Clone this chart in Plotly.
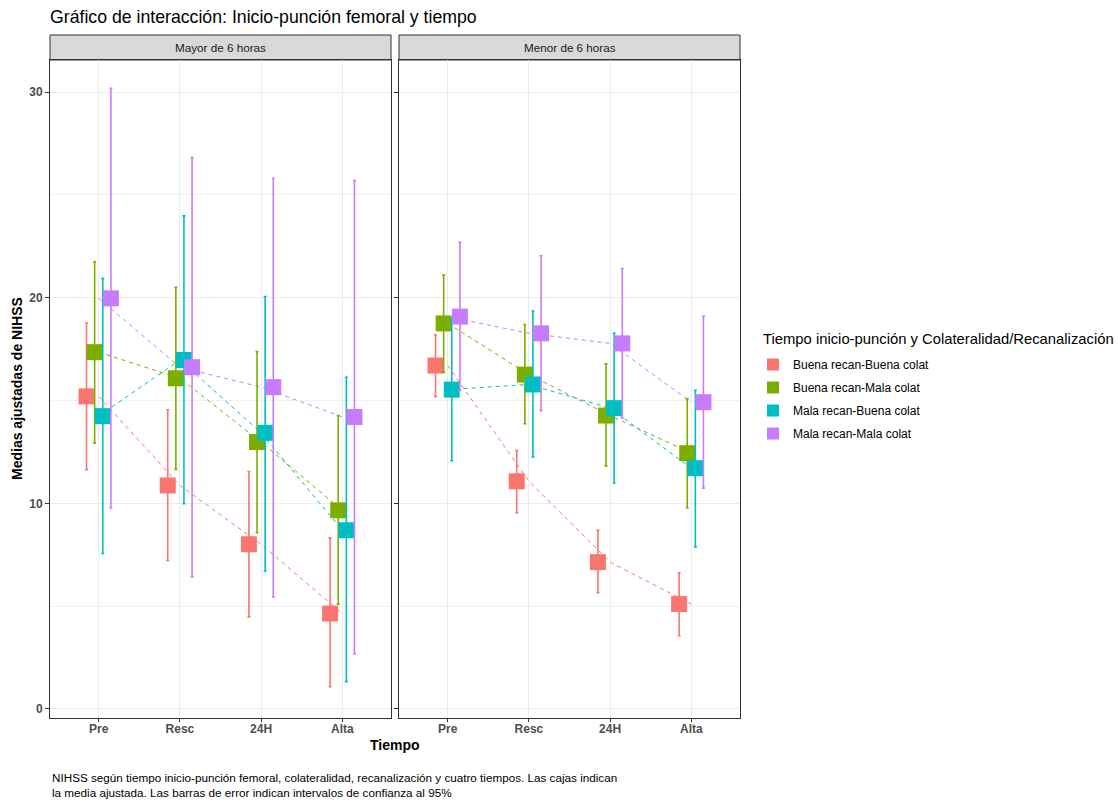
import plotly.graph_objects as go

# Time points and facets
tiempos = ["Pre", "Resc", "24H", "Alta"]
paneles = ["Mayor de 6 horas", "Menor de 6 horas"]
grupos = ["Buena recan-Buena colat", "Buena recan-Mala colat",
          "Mala recan-Buena colat", "Mala recan-Mala colat"]
colores = ["#F8766D", "#7CAE00", "#00BFC4", "#C77CFF"]

# Adjusted means and 95% CI, facet "Mayor de 6 horas"
mayor_media = {
    "Buena recan-Buena colat": [15.2, 10.87, 8.01, 4.64],
    "Buena recan-Mala colat": [17.35, 16.08, 12.98, 9.66],
    "Mala recan-Buena colat": [14.24, 16.97, 13.43, 8.69],
    "Mala recan-Mala colat": [19.97, 16.62, 15.65, 14.2],
}
mayor_inf = {
    "Buena recan-Buena colat": [11.63, 7.22, 4.48, 1.08],
    "Buena recan-Mala colat": [12.93, 11.65, 8.57, 5.10],
    "Mala recan-Buena colat": [7.56, 9.98, 6.71, 1.33],
    "Mala recan-Mala colat": [9.77, 6.42, 5.45, 2.67],
}
mayor_sup = {
    "Buena recan-Buena colat": [18.77, 14.55, 11.55, 8.32],
    "Buena recan-Mala colat": [21.75, 20.5, 17.38, 14.27],
    "Mala recan-Buena colat": [20.94, 23.98, 20.06, 16.13],
    "Mala recan-Mala colat": [30.18, 26.81, 25.81, 25.7],
}

# Adjusted means and 95% CI, facet "Menor de 6 horas"
menor_media = {
    "Buena recan-Buena colat": [16.70, 11.07, 7.14, 5.10],
    "Buena recan-Mala colat": [18.75, 16.26, 14.27, 12.44],
    "Mala recan-Buena colat": [15.53, 15.78, 14.63, 11.71],
    "Mala recan-Mala colat": [19.08, 18.27, 17.78, 14.92],
}
menor_inf = {
    "Buena recan-Buena colat": [15.19, 9.55, 5.65, 3.56],
    "Buena recan-Mala colat": [16.37, 13.87, 11.81, 9.77],
    "Mala recan-Buena colat": [12.07, 12.25, 10.99, 7.88],
    "Mala recan-Mala colat": [15.49, 14.51, 14.15, 10.74],
}
menor_sup = {
    "Buena recan-Buena colat": [18.19, 12.57, 8.69, 6.62],
    "Buena recan-Mala colat": [21.1, 18.7, 16.78, 15.08],
    "Mala recan-Buena colat": [18.97, 19.35, 18.27, 15.5],
    "Mala recan-Mala colat": [22.69, 22.04, 21.42, 19.1],
}

datos = [(mayor_media, mayor_inf, mayor_sup), (menor_media, menor_inf, menor_sup)]

# dodge offsets for points / error bars (lines stay at the category centre)
dodge = 0.4
n = len(grupos)
offsets = [(-dodge / 2 + dodge / n * (i + 0.5)) for i in range(n)]

W, H = 1118, 800
ML, MR, MT, MB = 50, 378, 60, 82
plot_w = W - ML - MR
plot_h = H - MT - MB
gap = 8
dom_l = [0, (plot_w - gap) / 2 / plot_w]
dom_r = [1 - (plot_w - gap) / 2 / plot_w, 1]

FONT = "Liberation Sans, Arial"

fig = go.Figure()

xaxes = ["x", "x2"]
yaxes = ["y", "y2"]
xpos = list(range(1, len(tiempos) + 1))

# dashed interaction lines
for p, (media, inf, sup) in enumerate(datos):
    for g, col in zip(grupos, colores):
        fig.add_trace(go.Scatter(
            x=xpos, y=media[g], mode="lines",
            line=dict(color=col, width=1, dash="4px,4px"),
            xaxis=xaxes[p], yaxis=yaxes[p], showlegend=False, hoverinfo="skip",
        ))

# means with confidence interval bars
for p, (media, inf, sup) in enumerate(datos):
    for i, (g, col) in enumerate(zip(grupos, colores)):
        m = media[g]
        fig.add_trace(go.Scatter(
            x=[x + offsets[i] for x in xpos], y=m, mode="markers",
            marker=dict(symbol="square", size=16, color=col, line=dict(width=0)),
            error_y=dict(type="data", symmetric=False,
                         array=[s - v for s, v in zip(sup[g], m)],
                         arrayminus=[v - l for v, l in zip(m, inf[g])],
                         color=col, thickness=1.6, width=1.5),
            xaxis=xaxes[p], yaxis=yaxes[p], name=g,
            legendgroup=g, showlegend=(p == 0),
        ))

yrange = [-0.44, 31.56]
axis_font = dict(family=FONT, size=12, color="#4D4D4D")
common_x = dict(range=[0.4, 4.6], tickvals=xpos, ticktext=[f"<b>{t}</b>" for t in tiempos],
                showgrid=True, gridcolor="#EBEBEB", gridwidth=1.1, zeroline=False,
                showline=True, mirror=True, linecolor="#333333", linewidth=1,
                ticks="outside", ticklen=3, tickcolor="#333333", tickfont=axis_font,
                ticklabelstandoff=-3)
common_y = dict(range=yrange, tickvals=[0, 10, 20, 30],
                showgrid=True, gridcolor="#EBEBEB", gridwidth=1.1, zeroline=False,
                showline=True, mirror=True, linecolor="#333333", linewidth=1,
                ticks="outside", ticklen=4, tickcolor="#333333", tickfont=axis_font,
                minor=dict(tickvals=[5, 15, 25], showgrid=True, gridcolor="#F0F0F0",
                           gridwidth=0.7, ticks=""))

fig.update_layout(
    xaxis=dict(domain=dom_l, anchor="y", **common_x),
    xaxis2=dict(domain=dom_r, anchor="y2", **common_x),
    yaxis=dict(domain=[0, 1], anchor="x",
               ticktext=["<b>0</b>", "<b>10</b>", "<b>20</b>", "<b>30</b>"], **common_y),
    yaxis2=dict(domain=[0, 1], anchor="x2", showticklabels=False, **common_y),
)

# facet strips
strip_top = 1 + 25 / plot_h
for p, dom in enumerate([dom_l, dom_r]):
    fig.add_shape(type="rect", xref="paper", yref="paper",
                  x0=dom[0], x1=dom[1], y0=1, y1=strip_top,
                  fillcolor="#D9D9D9", line=dict(color="#333333", width=1), layer="below")
    fig.add_annotation(text=paneles[p], xref="paper", yref="paper",
                       x=(dom[0] + dom[1]) / 2, y=(1 + strip_top) / 2,
                       showarrow=False, xanchor="center", yanchor="middle",
                       font=dict(family=FONT, size=11.7, color="#1A1A1A"))

# axis titles
fig.add_annotation(text="<b>Medias ajustadas de NIHSS</b>", xref="paper", yref="paper",
                   x=-33 / plot_w, y=0.5, textangle=-90, showarrow=False,
                   xanchor="center", yanchor="middle",
                   font=dict(family=FONT, size=14, color="black"))
fig.add_annotation(text="<b>Tiempo</b>", xref="paper", yref="paper",
                   x=0.5, y=-27 / plot_h, showarrow=False,
                   xanchor="center", yanchor="middle",
                   font=dict(family=FONT, size=14, color="black"))

# legend title
fig.add_annotation(text="Tiempo inicio-punción y Colateralidad/Recanalización",
                   xref="paper", yref="paper",
                   x=(761 - ML) / plot_w, y=(H - MB - 339) / plot_h,
                   showarrow=False, xanchor="left", yanchor="middle",
                   font=dict(family=FONT, size=14.8, color="black"))

# caption
fig.add_annotation(
    text=("NIHSS según tiempo inicio-punción femoral, colateralidad, recanalización y cuatro tiempos. "
          "Las cajas indican<br>la media ajustada. Las barras de error indican intervalos de confianza al 95%"),
    xref="paper", yref="paper", x=0, y=-(769 - (H - MB)) / plot_h,
    showarrow=False, xanchor="left", yanchor="top", align="left",
    font=dict(family=FONT, size=11.7, color="black"))

fig.update_layout(
    width=W, height=H,
    margin=dict(l=ML, r=MR, t=MT, b=MB),
    paper_bgcolor="white", plot_bgcolor="white",
    title=dict(text="Gráfico de interacción: Inicio-punción femoral y tiempo",
               x=ML / W, xanchor="left", y=1 - 17 / H, yanchor="middle",
               font=dict(family=FONT, size=17.7, color="black")),
    legend=dict(font=dict(family=FONT, size=12, color="black"),
                x=(753 - ML) / plot_w, xanchor="left",
                y=(H - MB - 350) / plot_h, yanchor="top",
                tracegroupgap=4, itemsizing="constant", bgcolor="rgba(0,0,0,0)"),
    showlegend=True,
)

fig.write_html("out.html")
